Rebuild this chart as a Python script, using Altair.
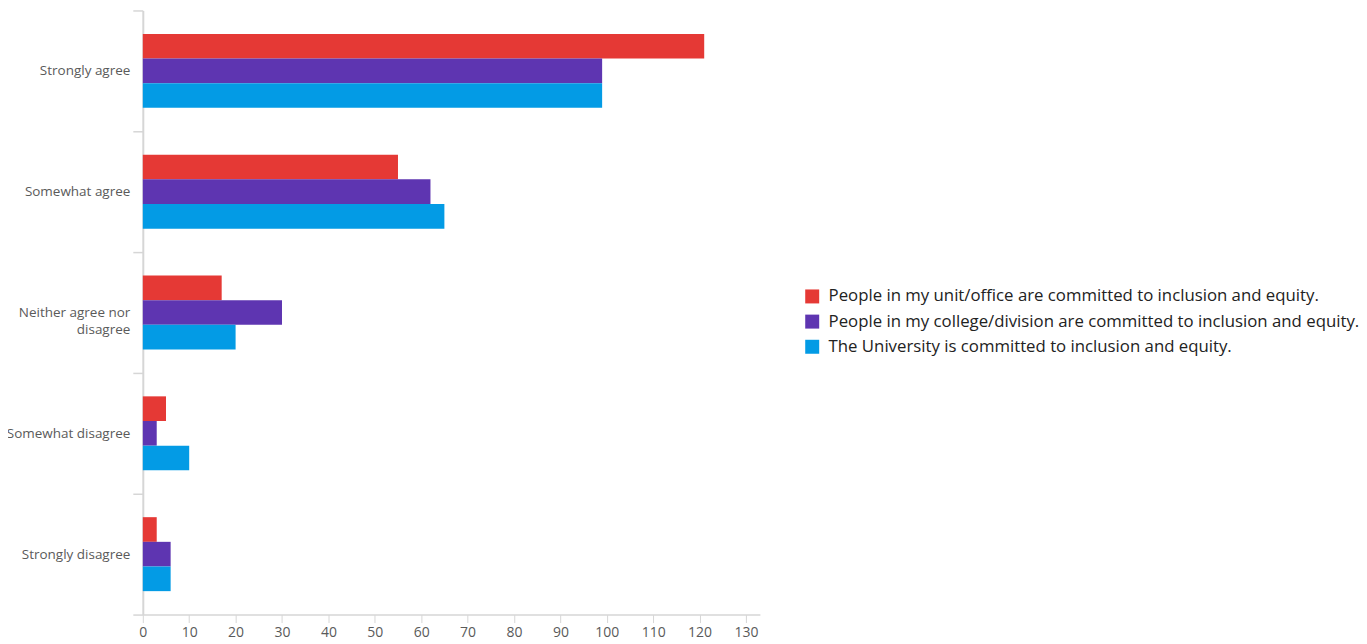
import altair as alt
import pandas as pd

categories = ["Strongly agree", "Somewhat agree", "Neither agree nor disagree",
              "Somewhat disagree", "Strongly disagree"]
series = ["People in my unit/office are committed to inclusion and equity.",
          "People in my college/division are committed to inclusion and equity.",
          "The University is committed to inclusion and equity."]
values_unit = [121, 55, 17, 5, 3]
values_college = [99, 62, 30, 3, 6]
values_university = [99, 65, 20, 10, 6]
colors = ["#E53935", "#5E35B1", "#039BE5"]
x_ticks = list(range(0, 131, 10))

rows = []
for s, vals in zip(series, [values_unit, values_college, values_university]):
    for c, v in zip(categories, vals):
        rows.append({"category": c, "series": s, "count": v})
df = pd.DataFrame(rows)

FONT = "Open Sans"

chart = alt.Chart(df).mark_bar().encode(
    y=alt.Y("category:N", sort=categories,
            scale=alt.Scale(paddingInner=0, paddingOuter=0),
            axis=alt.Axis(title=None, tickBand="extent", tickSize=10,
                          tickColor="#d6d6d6", tickWidth=1.5,
                          domainColor="#d6d6d6", domainWidth=2,
                          labelColor="#5a5a5a", labelFontSize=13.5, labelFont=FONT,
                          labelPadding=3, labelLineHeight=17, labelLimit=200,
                          labelExpr="datum.value == 'Neither agree nor disagree' ? ['Neither agree nor', 'disagree'] : datum.label")),
    yOffset=alt.YOffset("series:N", sort=series,
                        scale=alt.Scale(paddingInner=0, paddingOuter=0.95)),
    x=alt.X("count:Q", scale=alt.Scale(domain=[0, 133], nice=False),
            axis=alt.Axis(title=None, values=x_ticks, grid=False,
                          tickSize=8, tickColor="#d6d6d6", domainColor="#d6d6d6",
                          domainWidth=1.5, labelColor="#5a5a5a", labelFontSize=14,
                          labelFont=FONT, labelPadding=3, labelFlush=False)),
    color=alt.Color("series:N", sort=series,
                    scale=alt.Scale(domain=series, range=colors),
                    legend=alt.Legend(title=None, orient="none", legendX=662, legendY=278,
                                      symbolType="square", symbolSize=196,
                                      symbolStrokeWidth=0, symbolOpacity=1,
                                      labelFontSize=16.8, labelFont=FONT,
                                      labelColor="#222222", labelLimit=700,
                                      rowPadding=7.2, labelOffset=8)),
).properties(
    width=618, height=605,
    autosize=alt.AutoSizeParams(type="none"),
    padding={"left": 135, "top": 2, "right": 600, "bottom": 26},
).configure_view(stroke=None)

chart.save("out.html", embed_options={"renderer": "svg", "actions": False})
